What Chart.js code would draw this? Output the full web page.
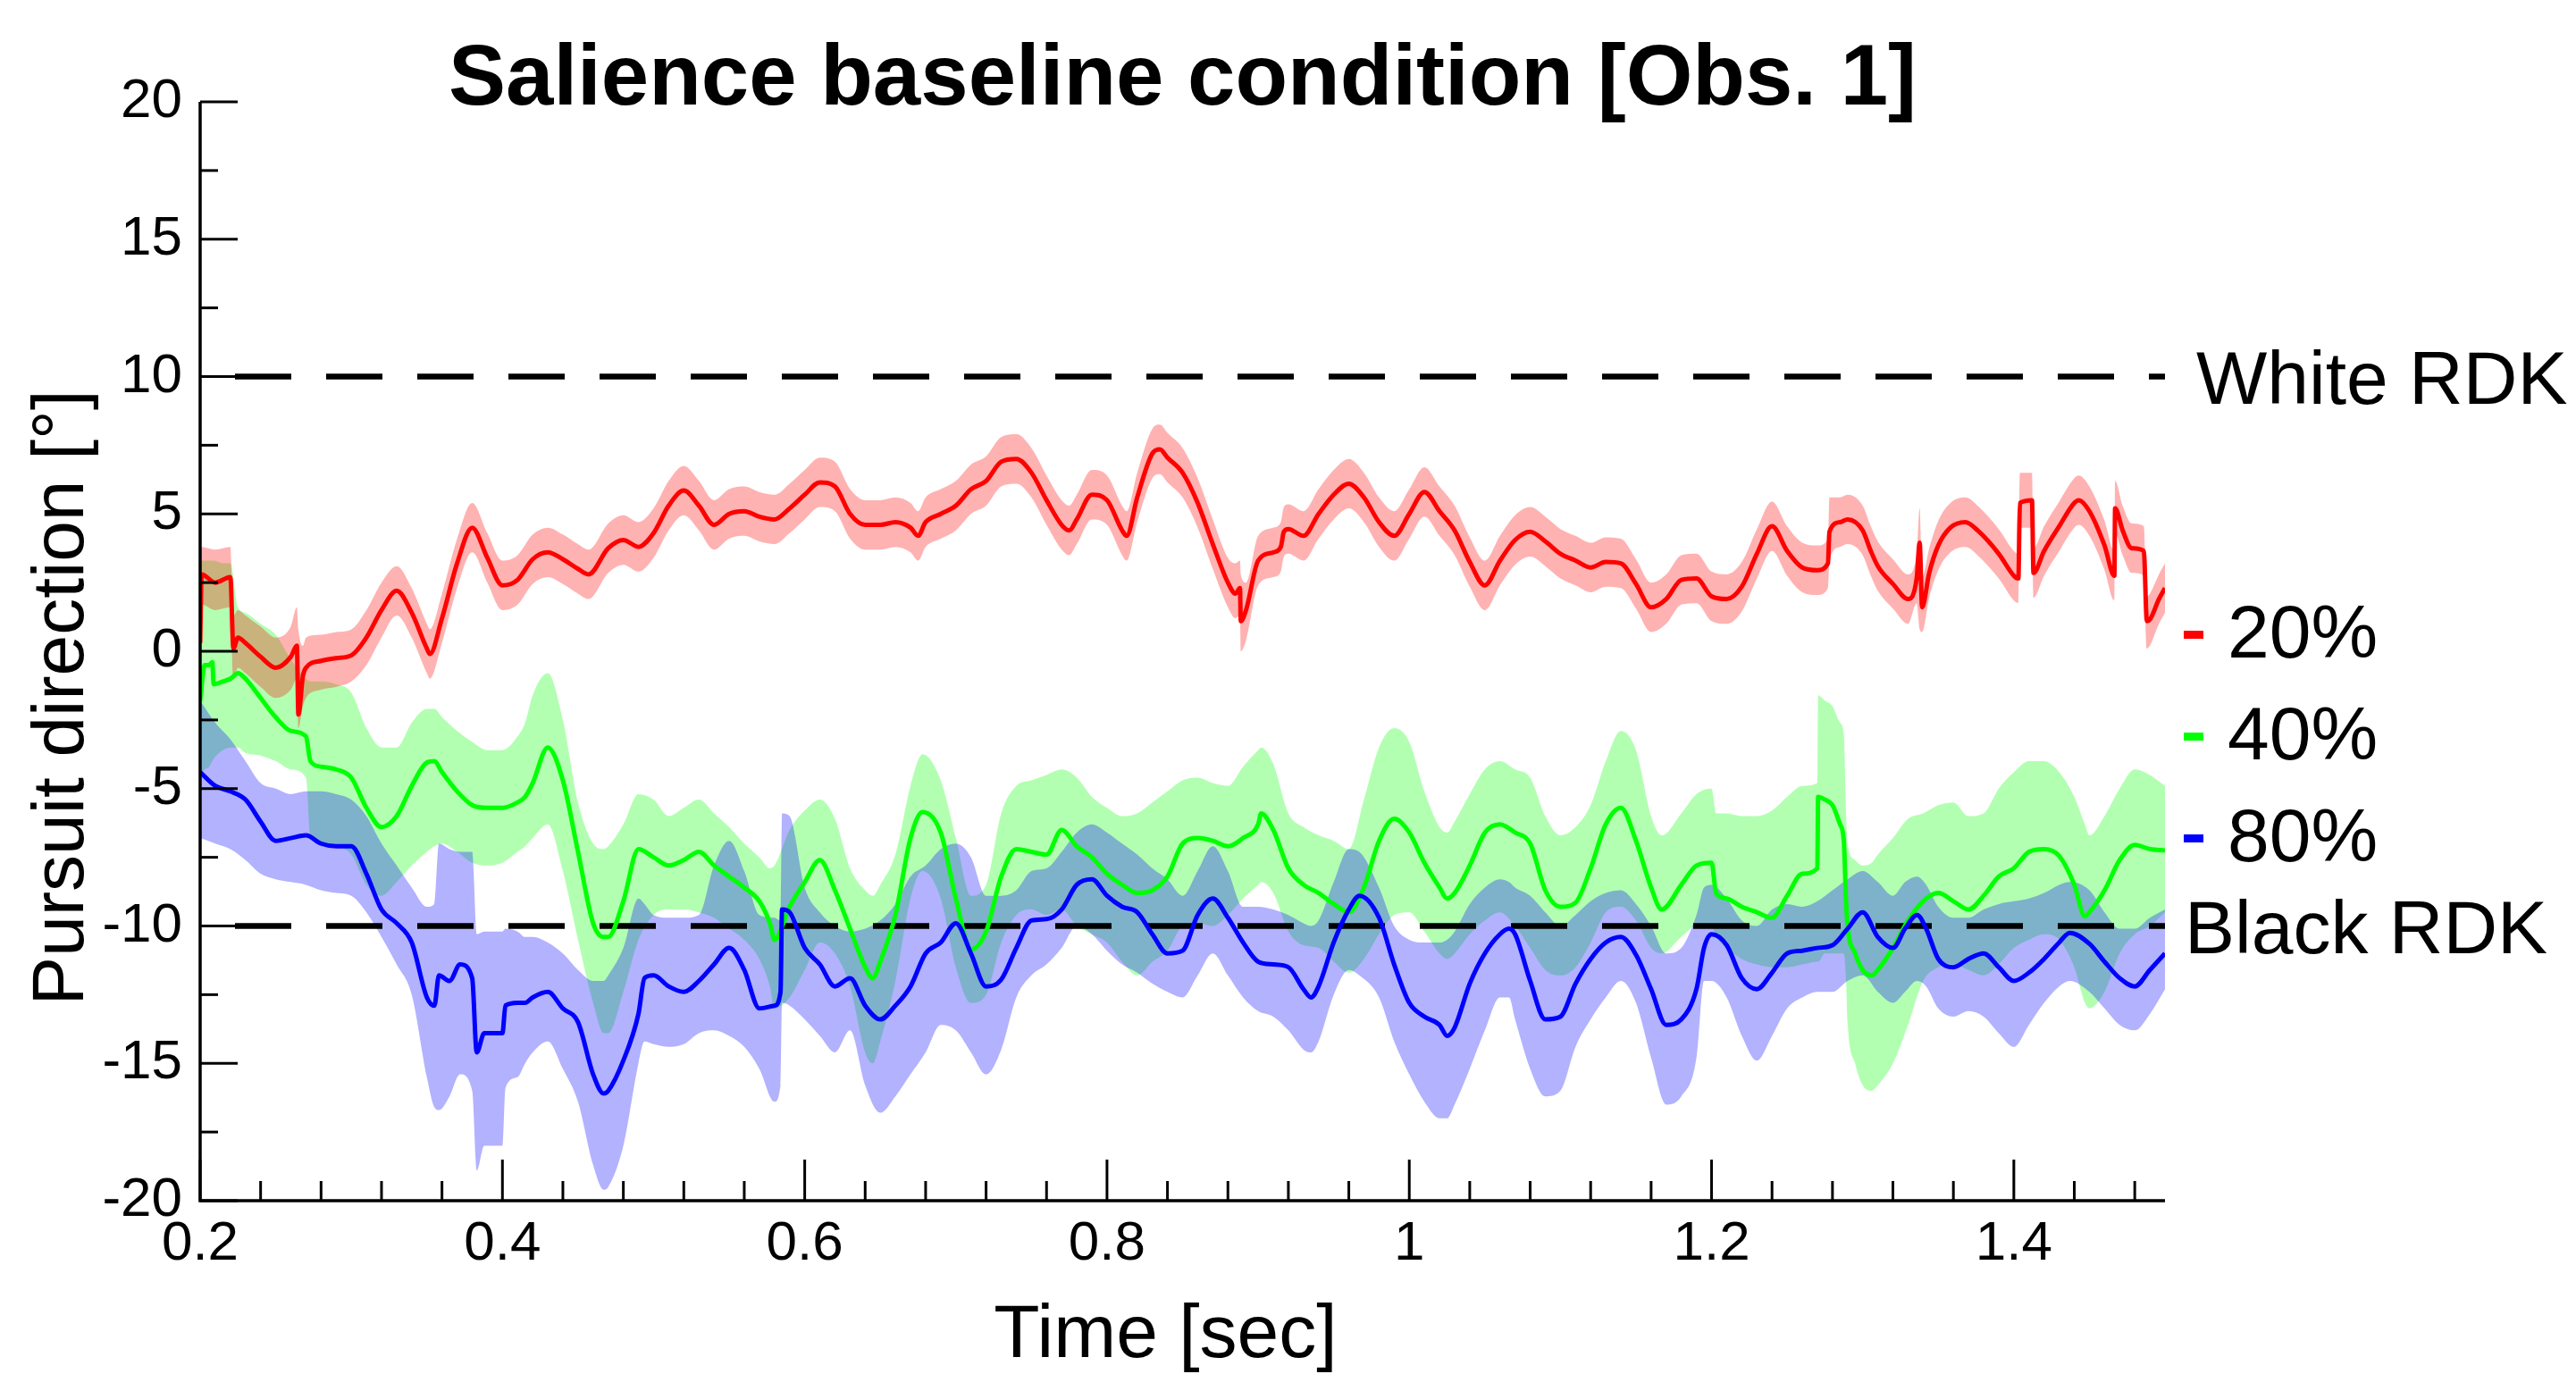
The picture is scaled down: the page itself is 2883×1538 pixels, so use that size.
<!DOCTYPE html>
<html><head><meta charset="utf-8">
<script src="https://cdn.jsdelivr.net/npm/chart.js@4.4.1/dist/chart.umd.min.js"></script>
<style>html,body{margin:0;padding:0;background:#fff;overflow:hidden}canvas{display:block}</style>
</head><body>
<canvas id="c" width="2883" height="1538" style="width:2883px;height:1538px"></canvas>
<script>
const FONT = '"Liberation Sans", Arial, Helvetica, sans-serif';
const chartTitle = 'Salience baseline condition [Obs. 1]';
const xAxisTitle = 'Time [sec]';
const yAxisTitle = 'Pursuit direction [°]';
const xMin = 0.2, xMax = 1.5, xMajorStep = 0.2, xMinorStep = 0.04;
const yMin = -20, yMax = 20, yMajorStep = 5, yMinorStep = 2.5;
const refLevels = [10, -10];
const refLabels = ['White RDK', 'Black RDK'];
const seriesNames = ['20%', '40%', '80%'];
const seriesColors = ['#ff0000', '#00ff00', '#0000ff'];
const bandColors = ['rgba(255,0,0,0.3)', 'rgba(0,255,0,0.3)', 'rgba(0,0,255,0.3)'];

const redTime = [
0.200,0.201,0.21,0.22,0.222,0.225,0.23,0.24,0.25,0.26,
0.264,0.265,0.268,0.27,0.28,0.29,0.30,0.31,0.32,0.33,
0.34,0.35,0.352,0.36,0.37,0.38,0.39,0.40,0.41,0.42,
0.43,0.44,0.45,0.457,0.47,0.48,0.49,0.50,0.51,0.52,
0.53,0.54,0.55,0.56,0.57,0.58,0.59,0.60,0.61,0.62,
0.63,0.64,0.65,0.66,0.67,0.675,0.68,0.69,0.70,0.71,
0.72,0.73,0.74,0.75,0.76,0.77,0.775,0.78,0.79,0.80,
0.81,0.813,0.82,0.83,0.835,0.84,0.85,0.86,0.87,0.88,
0.885,0.888,0.8885,0.892,0.90,0.91,0.915,0.917,0.92,0.93,
0.94,0.95,0.96,0.97,0.98,0.99,1.00,1.01,1.02,1.03,
1.04,1.05,1.06,1.07,1.08,1.09,1.10,1.11,1.12,1.13,
1.14,1.15,1.16,1.17,1.18,1.19,1.20,1.21,1.22,1.23,
1.24,1.25,1.26,1.27,1.277,1.278,1.285,1.29,1.30,1.305,
1.31,1.32,1.33,1.3357,1.3377,1.3393,1.344,1.35,1.358,1.368,
1.376,1.39,1.40,1.403,1.404,1.412,1.413,1.42,1.43,1.44,
1.443,1.45,1.46,1.4665,1.467,1.472,1.478,1.486,1.488,1.49,
1.496,1.50];
const redMean = [
0.3,2.8,2.5,2.7,0.1,0.5,0.3,-0.2,-0.6,-0.2,
0.2,-2.3,-0.9,-0.6,-0.35,-0.25,-0.15,0.5,1.5,2.2,
1.4,0.1,-0.1,1.2,3.2,4.5,3.4,2.4,2.6,3.35,
3.6,3.35,3.0,2.8,3.75,4.05,3.8,4.3,5.3,5.85,
5.3,4.6,5.0,5.1,4.9,4.8,5.2,5.7,6.15,6.0,
5.0,4.6,4.6,4.7,4.5,4.2,4.7,5.0,5.3,5.9,
6.2,6.9,7.0,6.5,5.5,4.6,4.4,4.8,5.7,5.5,
4.4,4.2,5.6,7.2,7.35,7.05,6.5,5.4,3.9,2.5,
2.1,2.3,1.1,1.5,3.3,3.6,3.8,4.35,4.45,4.2,
5.0,5.7,6.1,5.6,4.7,4.2,5.0,5.8,5.1,4.4,
3.25,2.4,3.3,4.05,4.35,4.0,3.55,3.3,3.05,3.25,
3.2,2.45,1.6,1.9,2.6,2.65,2.0,1.9,2.35,3.55,
4.55,3.65,3.05,2.95,3.2,4.35,4.7,4.8,4.4,3.7,
3.1,2.45,1.9,2.65,3.95,1.6,2.85,3.85,4.5,4.7,
4.4,3.55,2.75,2.65,5.4,5.5,2.85,3.65,4.55,5.4,
5.5,5.1,3.85,2.75,5.2,4.4,3.75,3.65,1.1,1.15,
1.9,2.3];
const redLow = [
-0.5,1.7,1.5,1.6,-1.0,-0.6,-0.8,-1.3,-1.7,-1.4,
-1.0,-2.8,-2.0,-1.7,-1.4,-1.3,-1.1,-0.5,0.5,1.3,
0.5,-0.8,-1.0,0.3,2.3,3.6,2.5,1.5,1.7,2.45,
2.7,2.45,2.1,1.9,2.85,3.15,2.9,3.4,4.4,4.95,
4.4,3.7,4.1,4.2,4.0,3.9,4.3,4.8,5.25,5.1,
4.1,3.7,3.7,3.8,3.6,3.3,3.8,4.1,4.4,5.0,
5.3,6.0,6.1,5.6,4.6,3.7,3.5,3.9,4.8,4.6,
3.5,3.3,4.7,6.3,6.45,6.15,5.6,4.5,3.0,1.6,
1.2,1.3,0.0,0.4,2.4,2.7,2.9,3.45,3.55,3.3,
4.1,4.8,5.2,4.7,3.8,3.3,4.1,4.9,4.2,3.5,
2.35,1.5,2.4,3.15,3.45,3.1,2.65,2.4,2.15,2.35,
2.3,1.55,0.7,1.0,1.7,1.75,1.1,1.0,1.45,2.65,
3.65,2.75,2.15,2.05,2.3,3.3,3.8,3.9,3.5,2.8,
2.2,1.55,1.0,1.75,0.8,0.7,1.95,2.95,3.6,3.8,
3.5,2.65,1.85,1.75,4.5,4.5,1.95,2.75,3.65,4.5,
4.6,4.2,2.95,1.85,4.3,3.5,2.85,2.75,0.1,0.2,
1.0,1.4];
const redHigh = [
3.8,3.8,3.7,3.8,1.3,1.5,1.3,0.9,0.5,0.9,
1.6,0.8,0.2,0.5,0.6,0.7,0.8,1.5,2.5,3.1,
2.3,1.0,0.8,2.1,4.1,5.4,4.3,3.3,3.5,4.25,
4.5,4.25,3.9,3.7,4.65,4.95,4.7,5.2,6.2,6.75,
6.2,5.5,5.9,6.0,5.8,5.7,6.1,6.6,7.05,6.9,
5.9,5.5,5.5,5.6,5.4,5.1,5.6,5.9,6.2,6.8,
7.1,7.8,7.9,7.4,6.4,5.5,5.3,5.7,6.6,6.4,
5.3,5.1,6.5,8.1,8.25,7.95,7.4,6.3,4.8,3.4,
3.2,3.3,2.8,2.5,4.2,4.5,4.7,5.25,5.35,5.1,
5.9,6.6,7.0,6.5,5.6,5.1,5.9,6.7,6.0,5.3,
4.15,3.3,4.2,4.95,5.25,4.9,4.45,4.2,3.95,4.15,
4.1,3.35,2.5,2.8,3.5,3.55,2.9,2.8,3.25,4.45,
5.45,4.55,3.95,3.85,4.1,5.6,5.6,5.7,5.3,4.6,
4.0,3.35,2.8,3.55,5.2,2.7,3.75,4.75,5.4,5.6,
5.3,4.45,3.65,3.55,6.5,6.5,3.75,4.55,5.45,6.3,
6.4,6.0,4.75,3.65,6.2,5.3,4.65,4.55,2.0,2.1,
2.8,3.2];

const greenTime = [
0.200,0.203,0.206,0.208,0.209,0.215,0.22,0.225,0.23,0.24,
0.25,0.26,0.27,0.273,0.28,0.29,0.30,0.31,0.32,0.33,
0.34,0.35,0.355,0.36,0.37,0.38,0.39,0.40,0.41,0.415,
0.42,0.43,0.44,0.45,0.46,0.467,0.47,0.48,0.49,0.50,
0.51,0.52,0.53,0.54,0.55,0.56,0.57,0.577,0.58,0.59,
0.60,0.61,0.62,0.63,0.64,0.645,0.65,0.66,0.67,0.678,
0.69,0.70,0.71,0.72,0.73,0.74,0.75,0.76,0.77,0.78,
0.79,0.80,0.81,0.82,0.83,0.84,0.85,0.86,0.87,0.88,
0.89,0.90,0.902,0.91,0.92,0.93,0.94,0.95,0.96,0.97,
0.98,0.99,1.00,1.01,1.02,1.025,1.03,1.04,1.05,1.06,
1.07,1.08,1.09,1.10,1.11,1.12,1.13,1.14,1.15,1.16,
1.167,1.18,1.19,1.20,1.203,1.21,1.22,1.23,1.24,1.25,
1.26,1.27,1.2705,1.275,1.28,1.285,1.2875,1.289,1.29,1.295,
1.30,1.306,1.31,1.32,1.33,1.34,1.35,1.36,1.37,1.38,
1.39,1.40,1.41,1.42,1.43,1.44,1.447,1.45,1.46,1.47,
1.48,1.49,1.50];
const greenMean = [
-1.8,-0.5,-0.5,-0.4,-1.2,-1.1,-1.0,-0.8,-1.0,-1.7,
-2.4,-2.9,-3.1,-4.0,-4.2,-4.3,-4.6,-5.7,-6.4,-6.0,
-4.9,-4.05,-4.0,-4.4,-5.1,-5.6,-5.7,-5.7,-5.5,-5.3,
-4.8,-3.5,-4.7,-7.3,-9.9,-10.4,-10.4,-9.1,-7.2,-7.5,
-7.8,-7.6,-7.3,-7.8,-8.2,-8.6,-9.1,-9.9,-10.5,-9.3,
-8.4,-7.6,-8.7,-10.1,-11.5,-11.9,-11.3,-9.6,-6.8,-5.85,
-6.6,-9.0,-10.85,-10.2,-8.2,-7.2,-7.3,-7.4,-6.5,-7.1,
-7.5,-8.1,-8.5,-8.8,-8.7,-8.2,-7.0,-6.8,-6.9,-7.1,
-6.8,-6.3,-5.9,-6.5,-7.9,-8.5,-8.8,-9.2,-9.5,-8.6,
-6.9,-6.1,-6.6,-7.7,-8.6,-9.0,-8.8,-7.8,-6.6,-6.3,
-6.6,-7.0,-8.7,-9.3,-9.15,-7.9,-6.3,-5.7,-6.9,-8.6,
-9.4,-8.5,-7.8,-7.7,-8.8,-9.0,-9.3,-9.5,-9.7,-8.9,
-8.1,-7.9,-5.3,-5.4,-5.6,-6.3,-6.9,-9.1,-10.0,-11.0,
-11.6,-11.8,-11.6,-10.8,-9.8,-9.1,-8.8,-9.1,-9.4,-8.9,
-8.2,-7.9,-7.3,-7.2,-7.45,-8.5,-9.65,-9.5,-8.7,-7.6,
-7.05,-7.2,-7.25];
const greenLow = [
-4.5,-4.3,-4.2,-4.0,-3.9,-3.6,-3.5,-3.5,-3.7,-3.8,
-4.0,-4.3,-4.6,-6.8,-7.0,-7.1,-7.4,-8.5,-8.9,-8.4,
-7.8,-7.3,-7.1,-7.0,-7.3,-7.7,-7.8,-7.7,-7.3,-7.1,
-6.8,-6.3,-8.0,-10.5,-12.8,-13.9,-13.9,-12.4,-10.5,-9.6,
-9.4,-9.4,-9.5,-9.7,-10.1,-10.5,-11.2,-12.2,-13.0,-12.6,
-11.6,-10.6,-11.0,-12.2,-14.6,-15.0,-14.2,-12.0,-9.0,-8.0,
-9.0,-11.5,-12.8,-12.5,-10.6,-9.6,-9.4,-9.6,-9.4,-10.0,
-10.3,-10.6,-11.3,-11.8,-11.3,-10.9,-10.0,-9.9,-10.0,-9.6,
-9.0,-8.5,-8.4,-8.8,-10.2,-10.7,-10.8,-11.3,-11.7,-11.2,
-10.3,-9.6,-9.5,-10.2,-11.0,-11.2,-11.0,-10.3,-9.8,-9.5,
-10.0,-10.8,-11.6,-11.8,-11.5,-10.6,-9.5,-9.3,-9.8,-10.8,
-11.0,-10.4,-10.0,-10.0,-10.4,-10.8,-11.2,-11.4,-11.5,-11.5,
-11.4,-11.3,-11.3,-11.0,-11.0,-11.0,-11.0,-12.0,-13.5,-15.0,
-15.8,-16.0,-15.8,-15.0,-13.6,-12.0,-11.5,-11.4,-11.6,-11.8,
-11.4,-10.8,-10.5,-10.3,-10.5,-11.5,-12.8,-13.0,-12.4,-11.0,
-10.3,-10.0,-9.5];
const greenHigh = [
3.3,3.3,3.3,3.3,3.3,3.2,3.2,1.6,1.4,1.0,
0.6,-0.3,-1.0,-1.1,-1.1,-1.2,-1.5,-2.8,-3.5,-3.5,
-2.6,-2.1,-2.1,-2.4,-2.9,-3.3,-3.6,-3.6,-3.1,-2.6,
-1.6,-0.8,-2.5,-5.5,-7.0,-7.2,-7.1,-6.3,-5.2,-5.4,
-6.0,-5.7,-5.4,-5.9,-6.4,-7.0,-7.5,-7.9,-7.8,-6.5,
-5.8,-5.4,-6.1,-7.9,-8.7,-8.9,-8.5,-7.4,-4.9,-3.75,
-4.7,-6.8,-8.9,-8.5,-5.9,-4.9,-4.7,-4.5,-4.3,-4.6,
-5.3,-5.7,-6.0,-5.9,-5.5,-5.1,-4.7,-4.6,-4.8,-4.9,
-4.2,-3.6,-3.5,-4.1,-5.9,-6.4,-6.7,-6.9,-7.2,-5.4,
-3.5,-2.8,-3.3,-5.1,-6.4,-6.6,-6.2,-5.2,-4.3,-4.0,
-4.3,-4.6,-6.0,-6.7,-6.4,-5.6,-4.0,-2.9,-3.6,-6.0,
-6.7,-5.9,-5.2,-5.0,-5.9,-5.9,-6.0,-6.0,-5.8,-5.3,
-4.9,-4.8,-1.6,-1.8,-2.0,-2.6,-3.0,-6.0,-7.0,-7.6,
-7.8,-7.7,-7.4,-6.8,-6.1,-5.9,-5.6,-5.5,-6.0,-5.9,
-5.0,-4.4,-4.0,-4.0,-4.4,-5.3,-6.3,-6.7,-6.0,-5.0,
-4.3,-4.5,-4.9];

const blueTime = [
0.200,0.21,0.22,0.23,0.24,0.25,0.26,0.27,0.28,0.29,
0.30,0.31,0.32,0.33,0.34,0.35,0.355,0.358,0.365,0.372,
0.38,0.383,0.388,0.40,0.402,0.41,0.415,0.42,0.43,0.44,
0.45,0.46,0.467,0.47,0.48,0.49,0.494,0.50,0.51,0.52,
0.53,0.54,0.55,0.56,0.57,0.58,0.584,0.585,0.59,0.60,
0.61,0.62,0.63,0.64,0.65,0.66,0.67,0.68,0.69,0.70,
0.71,0.72,0.73,0.74,0.75,0.76,0.77,0.78,0.79,0.80,
0.81,0.82,0.83,0.84,0.85,0.86,0.87,0.88,0.89,0.90,
0.91,0.92,0.93,0.935,0.94,0.95,0.96,0.967,0.98,0.99,
1.00,1.01,1.02,1.025,1.03,1.04,1.05,1.06,1.066,1.07,
1.08,1.09,1.10,1.11,1.12,1.13,1.14,1.15,1.16,1.17,
1.18,1.19,1.195,1.20,1.21,1.22,1.23,1.24,1.25,1.26,
1.27,1.28,1.29,1.30,1.31,1.32,1.328,1.336,1.342,1.35,
1.36,1.37,1.38,1.39,1.40,1.41,1.42,1.43,1.437,1.45,
1.46,1.47,1.48,1.49,1.50];
const blueMean = [
-4.4,-4.9,-5.1,-5.4,-6.2,-6.9,-6.8,-6.7,-7.0,-7.1,
-7.1,-8.1,-9.4,-9.9,-10.6,-12.6,-12.9,-11.8,-12.0,-11.4,
-11.9,-14.6,-13.9,-13.9,-12.9,-12.8,-12.8,-12.6,-12.4,-13.0,
-13.5,-15.4,-16.1,-16.0,-14.9,-13.2,-11.9,-11.8,-12.2,-12.4,
-12.0,-11.4,-10.8,-11.6,-13.0,-12.9,-12.4,-9.4,-9.5,-10.8,
-11.4,-12.2,-11.9,-12.9,-13.4,-12.9,-12.2,-11.0,-10.6,-9.9,
-11.0,-12.2,-11.95,-10.8,-9.8,-9.75,-9.4,-8.5,-8.3,-8.9,
-9.3,-9.5,-10.3,-11.0,-10.9,-9.6,-9.0,-9.7,-10.6,-11.3,
-11.4,-11.5,-12.3,-12.6,-12.2,-10.6,-9.4,-8.9,-9.7,-11.4,
-12.8,-13.3,-13.6,-14.0,-13.7,-12.1,-11.0,-10.3,-10.1,-10.3,
-12.0,-13.4,-13.3,-12.1,-11.2,-10.6,-10.4,-11.05,-12.3,-13.6,
-13.4,-12.3,-10.8,-10.3,-10.7,-11.9,-12.3,-11.7,-11.0,-10.9,
-10.8,-10.7,-10.1,-9.5,-10.4,-10.8,-10.1,-9.6,-10.1,-11.2,
-11.5,-11.2,-11.0,-11.5,-12.0,-11.7,-11.2,-10.6,-10.25,-10.65,
-11.3,-11.9,-12.2,-11.6,-11.0];
const blueLow = [
-6.8,-7.0,-7.2,-7.6,-8.1,-8.3,-8.4,-8.5,-8.7,-8.8,
-8.9,-9.5,-10.4,-11.4,-12.5,-15.5,-16.6,-16.7,-16.2,-15.4,
-16.0,-18.9,-18.0,-18.0,-15.9,-15.5,-15.0,-14.6,-14.2,-15.2,
-16.4,-18.7,-19.6,-19.5,-18.0,-15.0,-14.2,-14.3,-14.4,-14.3,
-13.9,-13.8,-14.0,-14.4,-15.2,-16.4,-15.8,-12.8,-12.9,-13.4,
-14.0,-14.6,-13.8,-15.8,-16.8,-16.2,-15.4,-14.6,-13.6,-13.8,
-14.6,-15.4,-14.5,-12.6,-11.8,-11.4,-10.8,-10.0,-10.3,-10.9,
-11.4,-11.7,-12.1,-12.4,-12.6,-11.8,-11.0,-11.8,-12.6,-13.1,
-13.3,-13.8,-14.5,-14.6,-14.2,-12.5,-11.6,-11.8,-12.6,-14.2,
-15.4,-16.4,-17.0,-17.0,-16.5,-15.2,-13.8,-12.6,-12.6,-13.4,
-15.2,-16.2,-16.0,-14.4,-13.4,-12.6,-12.0,-12.8,-14.8,-16.5,
-16.2,-14.8,-12.0,-12.0,-12.6,-14.0,-14.9,-14.0,-13.0,-12.6,
-12.4,-12.4,-12.0,-11.8,-12.4,-12.8,-12.4,-12.0,-12.2,-13.0,
-13.3,-13.1,-13.3,-13.9,-14.4,-13.6,-12.8,-12.2,-12.0,-12.4,
-13.0,-13.6,-13.8,-13.2,-12.3];
const blueHigh = [
-1.8,-2.6,-3.2,-4.0,-4.8,-5.0,-5.2,-5.1,-5.1,-5.2,
-5.4,-6.0,-7.0,-7.8,-8.6,-9.3,-9.2,-7.0,-7.2,-7.3,
-7.3,-10.3,-10.2,-10.2,-10.1,-10.2,-10.4,-10.4,-10.6,-11.0,
-11.6,-12.0,-12.0,-11.8,-10.8,-9.0,-9.2,-9.6,-9.7,-9.7,
-9.6,-7.8,-6.9,-8.0,-9.6,-9.7,-9.8,-5.9,-6.0,-8.6,
-9.5,-10.0,-10.2,-10.1,-9.8,-9.2,-8.2,-7.8,-7.2,-7.0,
-7.5,-8.9,-8.9,-8.7,-8.0,-7.9,-7.3,-6.6,-6.3,-6.6,
-7.0,-7.4,-7.9,-8.3,-8.9,-8.0,-7.1,-8.0,-9.3,-9.3,
-9.4,-9.6,-9.9,-10.0,-9.8,-8.4,-7.2,-7.3,-8.6,-10.0,
-10.5,-10.6,-10.6,-10.5,-10.2,-9.2,-8.6,-8.3,-8.4,-8.6,
-8.9,-9.5,-10.0,-9.6,-9.1,-8.8,-8.7,-9.2,-10.0,-11.0,
-10.8,-9.6,-8.6,-8.5,-9.0,-9.8,-10.0,-9.4,-9.2,-9.3,
-9.1,-8.7,-8.3,-8.0,-8.4,-8.9,-8.4,-8.2,-8.5,-9.3,
-9.7,-9.7,-9.4,-9.2,-9.1,-9.0,-8.8,-8.5,-8.4,-8.7,
-9.5,-10.1,-10.1,-9.7,-9.4];

// ---------- layout constants (pixels) ----------
const W = 2883, H = 1538;
const PLOT = {left: 224, right: 2423, top: 114, bottom: 1344};

function pts(t, v) { return t.map((x, i) => ({x: x, y: v[i]})); }

const seriesData = [
  {t: redTime, m: redMean, lo: redLow, hi: redHigh},
  {t: greenTime, m: greenMean, lo: greenLow, hi: greenHigh},
  {t: blueTime, m: blueMean, lo: blueLow, hi: blueHigh}
];
const bandOrder = [8, 9, 7];   // green band bottom-most, red and blue above it
const lineOrder = [3, 2, 1];

const datasets = [];
seriesData.forEach((s, k) => {
  datasets.push({label: seriesNames[k] + ' hi', data: pts(s.t, s.hi), borderWidth: 0,
    borderColor: 'rgba(0,0,0,0)', pointRadius: 0, fill: false, order: bandOrder[k],
    cubicInterpolationMode: 'monotone'});
  datasets.push({label: seriesNames[k] + ' lo', data: pts(s.t, s.lo), borderWidth: 0,
    borderColor: 'rgba(0,0,0,0)', pointRadius: 0, fill: '-1', backgroundColor: bandColors[k],
    order: bandOrder[k], cubicInterpolationMode: 'monotone'});
});
refLevels.forEach(v => {
  datasets.push({label: 'ref ' + v, data: [{x: xMin, y: v}, {x: xMax, y: v}], borderColor: '#000',
    borderWidth: 6.5, borderDash: [63, 39], borderDashOffset: 63, pointRadius: 0, fill: false, order: 5});
});
seriesData.forEach((s, k) => {
  datasets.push({label: seriesNames[k], data: pts(s.t, s.m), borderColor: seriesColors[k],
    borderWidth: 5, pointRadius: 0, fill: false, order: lineOrder[k],
    cubicInterpolationMode: 'monotone', borderJoinStyle: 'round'});
});

const decor = {
  id: 'decor',
  afterDraw(chart) {
    const {ctx, chartArea: a, scales: {x, y}} = chart;
    ctx.save();
    ctx.strokeStyle = '#000';
    ctx.fillStyle = '#000';
    // axis lines
    ctx.lineWidth = 3.5;
    ctx.beginPath();
    ctx.moveTo(a.left, y.getPixelForValue(yMax));
    ctx.lineTo(a.left, a.bottom);
    ctx.lineTo(x.getPixelForValue(xMax), a.bottom);
    ctx.stroke();
    // y ticks (inside)
    ctx.lineWidth = 3;
    for (let k = 0; ; k++) {
      const v = yMin + k * yMinorStep;
      if (v > yMax + 1e-9) break;
      const py = y.getPixelForValue(v);
      const major = Math.abs(v / yMajorStep - Math.round(v / yMajorStep)) < 1e-6;
      ctx.beginPath(); ctx.moveTo(a.left, py); ctx.lineTo(a.left + (major ? 42 : 20), py); ctx.stroke();
    }
    // x ticks (inside)
    for (let k = 0; ; k++) {
      const v = xMin + k * xMinorStep;
      if (v > xMax + 1e-9) break;
      const px = x.getPixelForValue(v);
      const r = (v - xMin) / xMajorStep;
      const major = Math.abs(r - Math.round(r)) < 1e-6;
      ctx.beginPath(); ctx.moveTo(px, a.bottom); ctx.lineTo(px, a.bottom - (major ? 46 : 22)); ctx.stroke();
    }
    // title
    ctx.textAlign = 'center'; ctx.textBaseline = 'alphabetic';
    ctx.font = 'bold 96px ' + FONT;
    ctx.fillText(chartTitle, (a.left + a.right) / 2, 117);
    // axis titles
    ctx.font = '84px ' + FONT;
    ctx.fillText(xAxisTitle, (a.left + a.right) / 2 - 19, 1519);
    ctx.save();
    ctx.font = '82px ' + FONT;
    ctx.translate(93, (a.top + a.bottom) / 2 + 52);
    ctx.rotate(-Math.PI / 2);
    ctx.fillText(yAxisTitle, 0, 0);
    ctx.restore();
    // reference labels
    ctx.font = '84px ' + FONT;
    ctx.textAlign = 'left';
    const refX = [2458, 2445];
    refLevels.forEach((v, i) => {
      ctx.fillText(refLabels[i], refX[i], y.getPixelForValue(v) + 30);
    });
    // legend
    const legY = [706, 820, 934];
    seriesNames.forEach((n, i) => {
      ctx.fillStyle = seriesColors[i];
      ctx.fillRect(2444, legY[i] + 0, 22, 9);
      ctx.fillStyle = '#000';
      ctx.fillText(n, 2493, legY[i] + 30);
    });
    ctx.restore();
  }
};

Chart.defaults.font.family = FONT;
new Chart(document.getElementById('c'), {
  type: 'line',
  data: {datasets},
  options: {
    responsive: false,
    animation: false,
    devicePixelRatio: 1,
    layout: {padding: {left: 0, right: W - PLOT.right, top: PLOT.top, bottom: H - PLOT.bottom - 120}},
    plugins: {legend: {display: false}, tooltip: {enabled: false}, title: {display: false}},
    scales: {
      x: {type: 'linear', min: xMin, max: xMax,
        grid: {display: false, drawTicks: false}, border: {display: false},
        ticks: {stepSize: xMajorStep, includeBounds: false, padding: 12, autoSkip: false, maxRotation: 0,
          color: '#000', font: {family: FONT, size: 62},
          callback: v => String(Math.round(v * 10) / 10)},
        afterFit: s => { s.height = 120; }},
      y: {type: 'linear', min: yMin, max: yMax,
        grid: {display: false, drawTicks: false}, border: {display: false},
        ticks: {stepSize: yMajorStep, padding: 20, color: '#000', font: {family: FONT, size: 62},
          callback: v => String(v)},
        afterFit: s => { s.width = PLOT.left; }}
    }
  },
  plugins: [decor]
});
</script>
</body></html>
